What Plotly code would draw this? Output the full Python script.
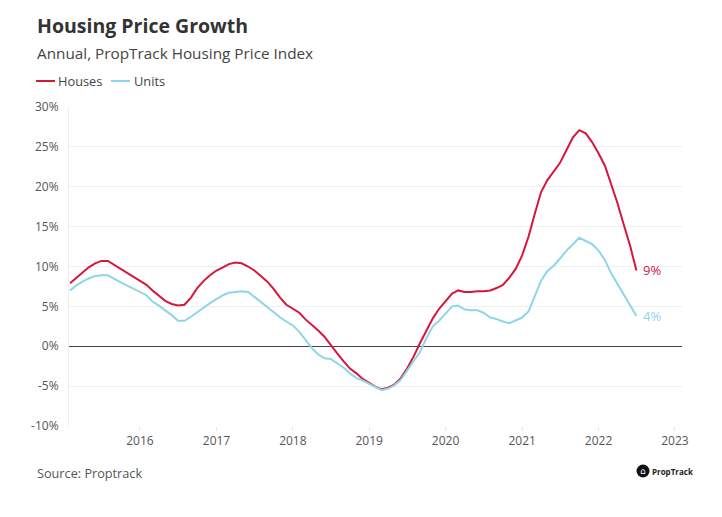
import pandas as pd
import plotly.graph_objects as go

# Monthly observations, Feb 2015 – Jul 2022
dates = pd.date_range("2015-02-01", "2022-07-01", freq="MS")

houses = [
    7.9, 8.5, 9.2, 9.9, 10.4, 10.7, 10.7, 10.2, 9.7, 9.2, 8.7,            # Feb-Dec 2015
    8.2, 7.7, 7.0, 6.3, 5.7, 5.3, 5.1, 5.2, 6.1, 7.3, 8.2, 8.9,           # 2016
    9.5, 9.9, 10.3, 10.5, 10.4, 10.0, 9.5, 8.8, 8.1, 7.2, 6.1, 5.2,       # 2017
    4.7, 4.2, 3.4, 2.7, 2.0, 1.2, 0.1, -0.9, -1.9, -2.8, -3.4, -4.1,      # 2018
    -4.6, -5.1, -5.4, -5.2, -4.8, -4.0, -2.8, -1.3, 0.4, 2.0, 3.5, 4.7,   # 2019
    5.7, 6.6, 7.0, 6.8, 6.8, 6.9, 6.9, 7.0, 7.3, 7.7, 8.6, 9.7,           # 2020
    11.4, 13.8, 16.5, 19.3, 20.8, 21.9, 23.0, 24.6, 26.2, 27.1, 26.7, 25.6,  # 2021
    24.2, 22.6, 20.4, 18.0, 15.3, 12.6, 9.5,                              # Jan-Jul 2022
]

units = [
    7.0, 7.6, 8.1, 8.5, 8.8, 8.9, 8.9, 8.4, 8.0, 7.6, 7.2,                # Feb-Dec 2015
    6.8, 6.4, 5.6, 5.1, 4.5, 3.9, 3.2, 3.2, 3.7, 4.3, 4.8, 5.4,           # 2016
    5.9, 6.4, 6.7, 6.8, 6.9, 6.8, 6.2, 5.6, 5.0, 4.3, 3.6, 3.1,           # 2017
    2.6, 1.8, 0.9, -0.2, -1.0, -1.5, -1.6, -2.1, -2.7, -3.4, -4.0, -4.3,  # 2018
    -4.7, -5.1, -5.5, -5.3, -4.9, -4.2, -3.1, -1.9, -0.7, 1.0, 2.5, 3.2,  # 2019
    4.1, 5.0, 5.1, 4.6, 4.5, 4.5, 4.2, 3.6, 3.4, 3.1, 2.9, 3.2,           # 2020
    3.6, 4.4, 6.2, 8.2, 9.4, 10.1, 11.0, 12.0, 12.8, 13.6, 13.2, 12.8,    # 2021
    12.0, 10.8, 9.2, 7.8, 6.4, 5.1, 3.8,                                  # Jan-Jul 2022
]

y_ticks = [-10, -5, 0, 5, 10, 15, 20, 25, 30]
y_labels = [f"{v}%" for v in y_ticks]
series_names = ["Houses", "Units"]
end_labels = ["9%", "4%"]

RED = "#d6173c"
BLUE = "#8fd5ea"
FONT = "Open Sans"

W, H = 722, 517
L, R, T, B = 69, 682, 107, 426   # plot area pixels


def px(x):
    return (x - L) / (R - L)


def py(y):
    return (B - y) / (B - T)


fig = go.Figure()
fig.add_trace(go.Scatter(x=dates, y=houses, mode="lines", name=series_names[0],
                         line=dict(color=RED, width=2), showlegend=False))
fig.add_trace(go.Scatter(x=dates, y=units, mode="lines", name=series_names[1],
                         line=dict(color=BLUE, width=2), showlegend=False))

# end labels
for vals, lab, col in [(houses, end_labels[0], RED), (units, end_labels[1], BLUE)]:
    fig.add_annotation(x=dates[-1], y=vals[-1], text=lab, showarrow=False,
                       xanchor="left", yanchor="middle", xshift=5,
                       font=dict(family=FONT, size=13, color=col))

annotations = [
    dict(x=px(35), y=py(25), text="<b>Housing Price Growth</b>", xanchor="left", yanchor="middle",
         font=dict(family=FONT, size=19.5, color="#333333")),
    dict(x=px(35), y=py(53), text="Annual, PropTrack Housing Price Index", xanchor="left", yanchor="middle",
         font=dict(family=FONT, size=15.3, color="#444444")),
    dict(x=px(56), y=py(81), text=series_names[0], xanchor="left", yanchor="middle",
         font=dict(family=FONT, size=12.8, color="#444444")),
    dict(x=px(132), y=py(81), text=series_names[1], xanchor="left", yanchor="middle",
         font=dict(family=FONT, size=12.8, color="#444444")),
    dict(x=px(35), y=py(473), text="Source: Proptrack", xanchor="left", yanchor="middle",
         font=dict(family=FONT, size=12.7, color="#555555")),
    dict(x=px(650), y=py(471), text="<b>PropTrack</b>", xanchor="left", yanchor="middle",
         font=dict(family=FONT, size=8, color="#222222")),
    dict(x=px(643), y=py(471), text="⌂", xanchor="center", yanchor="middle",
         font=dict(family="DejaVu Sans", size=9, color="white")),
]
for a in annotations:
    fig.add_annotation(xref="paper", yref="paper", showarrow=False, **a)

shapes = [
    dict(type="line", x0=px(36), x1=px(55), y0=py(81), y1=py(81), line=dict(color=RED, width=2)),
    dict(type="line", x0=px(111), x1=px(130), y0=py(81), y1=py(81), line=dict(color=BLUE, width=2)),
    dict(type="circle", x0=px(636.5), x1=px(649.5), y0=py(477.5), y1=py(464.5),
         fillcolor="#111111", line=dict(width=0)),
]
for s in shapes:
    fig.add_shape(xref="paper", yref="paper", layer="above", **s)

fig.update_layout(
    width=W, height=H,
    margin=dict(l=L, r=W - R, t=T, b=H - B),
    paper_bgcolor="white", plot_bgcolor="white",
    font=dict(family=FONT, size=12, color="#555555"),
    xaxis=dict(type="date", range=["2015-01-27", "2023-02-04"],
               tick0="2016-01-01", dtick="M12", tickformat="%Y",
               showgrid=False, zeroline=False, showline=False,
               ticks="outside", ticklen=4, tickcolor="#e6e6e6",
               tickfont=dict(family=FONT, size=12, color="#555555")),
    yaxis=dict(range=[-10, 30], tickvals=y_ticks, ticktext=y_labels,
               showgrid=True, gridcolor="#f0f0f0", gridwidth=1,
               zeroline=True, zerolinecolor="#444444", zerolinewidth=1,
               showline=True, linecolor="#eeeeee", linewidth=1,
               ticks="", ticklabelstandoff=7,
               tickfont=dict(family=FONT, size=12, color="#555555")),
)

fig.write_html("out.html", config={"displayModeBar": False},
               post_script="document.body.style.margin='0';")
